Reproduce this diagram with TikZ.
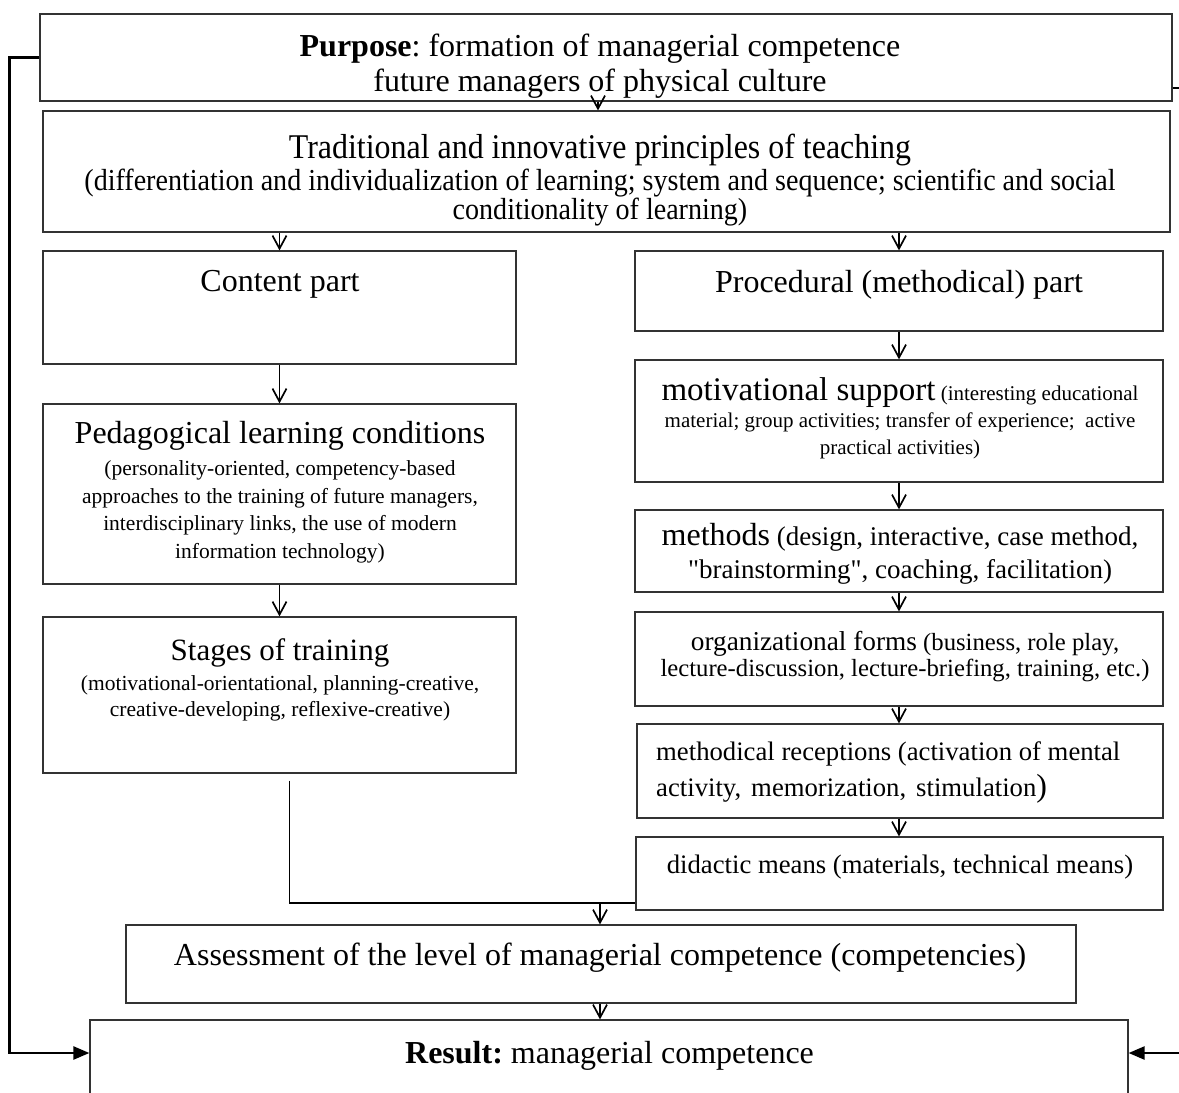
\documentclass[tikz,border=0pt]{standalone}
\usepackage{fontspec}
\setmainfont{Liberation Serif}
\newfontfamily\narrowserif[FakeStretch=0.92]{Liberation Serif}
\usetikzlibrary{arrows.meta,calc}

\newcommand\fsz[2]{\fontsize{#1}{#2}\selectfont}
\frenchspacing

\begin{document}
\begin{tikzpicture}[x=1pt,y=-1pt,
	box/.style={draw=black!80,line width=1.2pt,inner sep=0pt},
	txt/.style={anchor=north,align=center,inner sep=0pt},
	arr/.style={line width=1.7pt,-{Straight Barb[length=13pt,width=14pt]}},
	link/.style={line width=1.5pt},
	fb/.style={line width=2.4pt,-{Triangle[length=16pt,width=13pt]}}]
	
	\clip (0,0) rectangle (1179,1093);
	
	% purpose and principles
	\node[box,minimum width=1132pt,minimum height=87pt] (purpose) at (606,57.5) {};
	\node[txt,font=\fsz{32}{35}] (purpose-t) at (600,34) {\textbf{Purpose}: formation of managerial competence\\future managers of physical culture};
	
	\node[box,minimum width=1127pt,minimum height=121pt] (trad) at (606.5,171.5) {};
	\node[txt,font=\narrowserif\fsz{30.5}{28.5}] (trad-t) at (600,134) {{\fsz{34.7}{37}Traditional and innovative principles of teaching}\\[2pt](differentiation and individualization of learning; system and sequence; scientific and social\\conditionality of learning)};
	
	% left column
	\node[box,minimum width=473pt,minimum height=113pt] (content) at (279.5,307.5) {};
	\node[txt,font=\fsz{32}{35}] (content-t) at (280,270) {Content part};
	
	\node[box,minimum width=473pt,minimum height=180pt] (pedag) at (279.5,494) {};
	\node[txt,font=\fsz{21.5}{27.5}] (pedag-t) at (280,421) {{\fsz{32}{35}Pedagogical learning conditions}\\[5pt](personality-oriented, competency-based\\approaches to the training of future managers,\\interdisciplinary links, the use of modern\\information technology)};
	
	\node[box,minimum width=473pt,minimum height=156pt] (stages) at (279.5,695) {};
	\node[txt,font=\fsz{21.5}{26}] (stages-t) at (280,638.5) {{\fsz{31}{33}Stages of training}\\[4pt](motivational-orientational, planning-creative,\\creative-developing, reflexive-creative)};
	
	% right column
	\node[box,minimum width=528pt,minimum height=80pt] (proc) at (899,291) {};
	\node[txt,font=\fsz{32}{35}] (proc-t) at (899,270) {Procedural (methodical) part};
	
	\node[box,minimum width=528pt,minimum height=122pt] (motiv) at (899,421) {};
	\node[txt,font=\fsz{21}{27}] (motiv-t) at (900,377.5) {{\fsz{33}{35}motivational support} (interesting educational\\material; group activities; transfer of experience;~ active\\practical activities)};
	
	\node[box,minimum width=528pt,minimum height=82pt] (meth) at (899,551) {};
	\node[txt,font=\fsz{27}{33}] (meth-t) at (900,523) {{\fsz{32}{35}methods} (design, interactive, case method,\\\textquotedbl brainstorming\textquotedbl, coaching, facilitation)};
	
	\node[box,minimum width=528pt,minimum height=94pt] (org) at (899,659) {};
	\node[txt,font=\fsz{24.7}{26.5}] (org-t) at (905,631) {{\fsz{27.3}{30}organizational forms} (business, role play,\\lecture-discussion, lecture-briefing, training, etc.)};
	
	\node[box,minimum width=526pt,minimum height=94pt] (recep) at (900,771) {};
	\node[txt,anchor=north west,align=left,font=\fsz{26.7}{36}] (recep-t) at (656,741) {methodical receptions (activation of mental\\activity,\hspace{10pt}memorization,\hspace{10pt}stimulation{\fsz{32}{36})}};
	
	\node[box,minimum width=527pt,minimum height=73pt] (didac) at (899.5,873.5) {};
	\node[txt,font=\fsz{26.7}{30}] (didac-t) at (900,855) {didactic means (materials, technical means)};
	
	% assessment and result
	\node[box,minimum width=950pt,minimum height=78pt] (assess) at (601,964) {};
	\node[txt,font=\fsz{32}{35}] (assess-t) at (600,943) {Assessment of the level of managerial competence (competencies)};
	
	\node[box,minimum width=1038pt,minimum height=80pt] (result) at (609,1060) {};
	\node[txt,font=\fsz{32}{35}] (result-t) at (609.5,1041) {\textbf{Result:} managerial competence};
	
	% arrows
	\draw[arr] ([xshift=-8pt]purpose.south) -- ([xshift=-8pt]purpose.south |- trad.north);
	\draw[arr] (trad.south -| content.north) -- (content.north);
	\draw[arr] (trad.south -| proc.north) -- (proc.north);
	\draw[arr] (content.south) -- (pedag.north);
	\draw[arr] (pedag.south) -- (stages.north);
	\draw[arr] (proc.south) -- (motiv.north);
	\draw[arr] (motiv.south) -- (meth.north);
	\draw[arr] (meth.south) -- (org.north);
	\draw[arr] (org.south) -- (recep.north -| org.south);
	\draw[arr] (recep.south -| org.south) -- (didac.north -| org.south);
	
	% joining line
	\coordinate (joint) at (600,903);
	\draw[link] ([xshift=10pt,yshift=-7pt]stages.south) |- (joint) -- (joint -| didac.west);
	\draw[arr] (joint) -- (joint |- assess.north);
	\draw[arr] (assess.south -| joint) -- (result.north -| joint);
	
	% feedback lines
	\coordinate (edgeT) at (1179,88);
	\coordinate (edgeB) at (1179,1053);
	\draw[fb] (purpose.west) -- ++(-30,0) |- ([yshift=7pt]result.west);
	\draw[link] ([yshift=-30.5pt]purpose.east) -- (edgeT);
	\draw[fb] (edgeB) -- ([yshift=7pt]result.east);
	
\end{tikzpicture}
\end{document}
